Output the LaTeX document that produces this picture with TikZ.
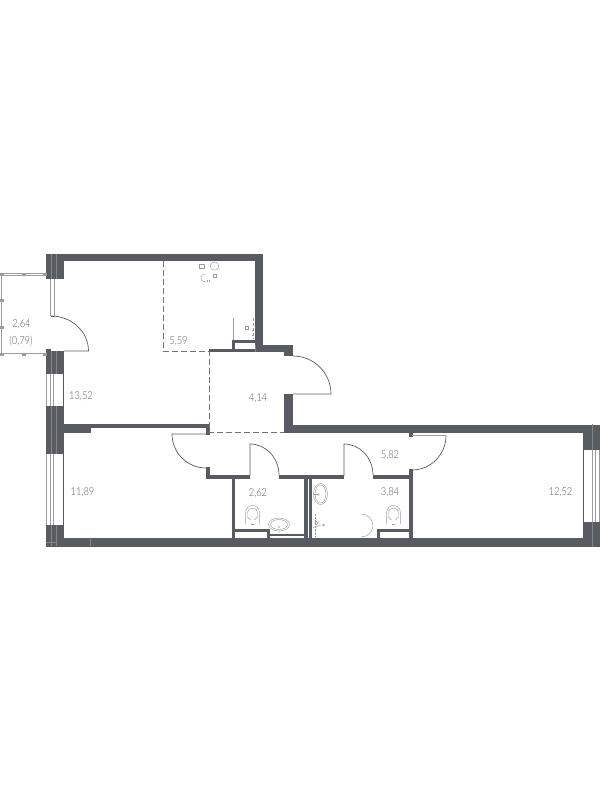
\documentclass[tikz,border=0pt]{standalone}
\usepackage{fontspec}
\setmainfont[FakeStretch=0.85]{Lato Light}
\definecolor{wallc}{HTML}{595B63}
\definecolor{linec}{HTML}{9A9CA0}
\begin{document}
\begin{tikzpicture}
    [   x=1pt,y=-1pt,
        wall/.style={fill=wallc,draw=none},
        seam/.style={draw=wallc!75!white,line width=0.3pt},
        leaf/.style={draw=wallc,line width=0.7pt},
        zone/.style={draw=wallc!85!white,line width=0.9pt,dash pattern=on 6pt off 3pt},
        glass/.style={draw=linec,line width=0.8pt},
        rail/.style={draw=linec,line width=2.6pt},
        railin/.style={draw=white,line width=0.7pt},
        post/.style={fill=linec,draw=none},
        fixt/.style={draw=linec,line width=0.45pt},
        area/.style={text=wallc,font=\fontsize{11}{12}\selectfont,inner sep=0pt},
    ]
        \useasboundingbox (0,0) rectangle (600,800);
        % walls
        \foreach \xa/\ya/\xb/\yb in {46/253.5/263/261, 46/253.5/64/279, 255/253.5/263/352,
            209/349/293/352, 255/344.5/293/352, 284/344.5/293/356, 284/394/293/432.5,
            284/424.5/597/432.5, 46/349/51/374, 46/351/64/374, 46/406/63.5/454,
            63/424/209/428, 63/424/90.5/432.5, 206/424/210/435, 206/467/210/478,
            206/475/250/478.5, 279/475/344/478.5, 373/475/412.5/478.5,
            232/475/235/539, 304/475/308/539, 309/475/312/539, 409/469/412.5/539,
            409/432/412.5/436.5, 46/525/64/546.5, 46/538/600/546.5,
            582.5/424.5/600/450, 582.5/522/600/546.5, 232/529/269.5/531.5, 267/529/269.5/539,
            269/534.3/305/536.2, 377/529/380/539, 377/529/410/532,
            232/340/235/350, 232/340/256/342.5}
        {   \fill[wall] (\xa,\ya) rectangle (\xb,\yb);
        }
        % seams in the walls
        \foreach \xa/\ya/\xb/\yb in {51/254/51/279, 56/254/56/279, 51/351/51/374,
            56/351/56/374, 51/406/51/454, 56/406/56/454, 51/525/51/546, 56/525/56/546,
            46/542/56/542, 90.5/539/90.5/546, 255/345/255/352, 592.5/424/592.5/450, 592.5/522/592.5/547}
        {   \draw[seam] (\xa,\ya) -- (\xb,\yb);
        }
        % windows
        \foreach \ya/\yb in {374/406, 454/525}
        {   \draw[glass] (46.5,\ya) -- (46.5,\yb);
            \draw[glass] (50.5,\ya) -- (50.5,\yb);
            \draw[glass] (53.5,\ya) -- (53.5,\yb);
            \draw[leaf] (63.5,\ya) -- (63.5,\yb);
        }
        \draw[glass] (50.5,279) -- (50.5,316);
        \draw[glass] (54,279) -- (54,316);
        \draw[leaf] (50.5,316) -- (53.5,316);
        \foreach \xa in {592.5, 595, 599}
        {   \draw[glass] (\xa,450) -- (\xa,522);
        }
        \draw[leaf] (583,450) -- (583,522);
        % balcony
        \draw[rail] (46,274.5) -- (2,274.5) -- (2,354) -- (46,354);
        \draw[railin] (46,274.5) -- (2,274.5) -- (2,354) -- (46,354);
        \foreach \xa/\ya in {2/274.5, 24/274.5, 45/274.5, 2/354, 24/354, 45/354, 2/300, 2/327}
        {   \fill[post] (\xa-1.7,\ya-1.5) rectangle (\xa+1.7,\ya+1.5);
        }
        % zones
        \draw[zone] (163,261) -- (163,351.5) -- (209.5,351.5) -- (209.5,432) -- (284,432);
        % doors
        \draw[leaf] (51,316) arc[start angle=270,end angle=360,x radius=37.5,y radius=35] -- (64,351);
        \draw[leaf] (293,356) arc[start angle=270,end angle=360,x radius=38,y radius=38] -- (293,394);
        \draw[leaf] (209,434) -- (172,434) arc[start angle=180,end angle=90,x radius=34,y radius=34];
        \draw[leaf] (250,476) -- (250,444) arc[start angle=270,end angle=360,x radius=29,y radius=31];
        \draw[leaf] (344,476) -- (344,444) arc[start angle=270,end angle=360,x radius=29,y radius=31];
        \draw[leaf] (446,435.5) arc[start angle=0,end angle=90,x radius=34,y radius=34.5];
        \draw[glass] (412,435) -- (446,435);
        % kitchen
        \draw[fixt] (199.5,264) rectangle (204,268.5);
        \draw[fixt] (214.5,266) circle[radius=4.2];
        \draw[fixt] (205.5,274.5) arc[start angle=285,end angle=75,radius=3.7];
        \draw[fixt] (213,274) rectangle (216.5,277.5);
        \draw[fixt] (207,280) -- (207,282) (209,280) -- (209,282);
        \draw[fixt] (233,340) -- (233,317.5);
        \draw[fixt,densely dashed] (253,318) -- (253,339);
        \draw[fixt] (245,326) rectangle (248,329);
        \draw[fixt] (252,330) -- (253.5,330) (252,335) -- (253.5,335);
        % baths
        \foreach \xa/\ya in {252.5/505, 393.5/505}
        {   \draw[fixt] (\xa-6.8,\ya+19) -- (\xa-6.8,\ya+7) arc[start angle=180,end angle=360,x radius=6.8,y radius=6.5] -- (\xa+6.8,\ya+19);
            \draw[fixt] (\xa-5,\ya+12) -- (\xa-5,\ya+7.5) arc[start angle=180,end angle=360,x radius=5,y radius=4.5] -- (\xa+5,\ya+12);
            \draw[fixt] (\xa-5,\ya+12) -- (\xa-2,\ya+15) (\xa+5,\ya+12) -- (\xa+2,\ya+15);
            \draw[fixt] (\xa-1.5,\ya+19) -- (\xa+1.5,\ya+19);
        }
        \draw[fixt] (279,524.5) ellipse[x radius=10.5,y radius=6.5];
        \draw[fixt] (279,524.5) ellipse[x radius=8.5,y radius=5];
        \fill[linec] (279,527) circle[radius=0.8];
        \fill[linec] (279,532) circle[radius=0.6];
        \draw[fixt] (320.5,494) ellipse[x radius=7,y radius=10.5];
        \draw[fixt] (320.5,494) ellipse[x radius=5.5,y radius=9];
        \draw[fixt] (318.5,494.5) circle[radius=0.9];
        \draw[fixt] (314,494.5) -- (317.5,494.5);
        \draw[fixt,densely dotted] (315.5,514) -- (315.5,537);
        \draw[fixt] (316.5,523) circle[radius=1.8];
        \draw[fixt] (313,527.5) -- (321,525) (323.5,525) circle[radius=1];
        \draw[fixt] (361,514) arc[start angle=270,end angle=450,x radius=12,y radius=11.5];
        % areas
        \node[area] (balcony) at (21.5,324.5) {2,64};
        \node[area] (balconyk) at (21,341) {(0,79)};
        \node[area] (kitchen) at (178.5,341) {5,59};
        \node[area] (living) at (81,396.5) {13,52};
        \node[area] (hall) at (258,398) {4,14};
        \node[area] (bedroom) at (82.5,492) {11,89};
        \node[area] (wc) at (258,493) {2,62};
        \node[area] (corridor) at (390,455) {5,82};
        \node[area] (bath) at (390,492) {3,84};
        \node[area] (room) at (560.5,492.5) {12,52};
\end{tikzpicture}
\end{document}
